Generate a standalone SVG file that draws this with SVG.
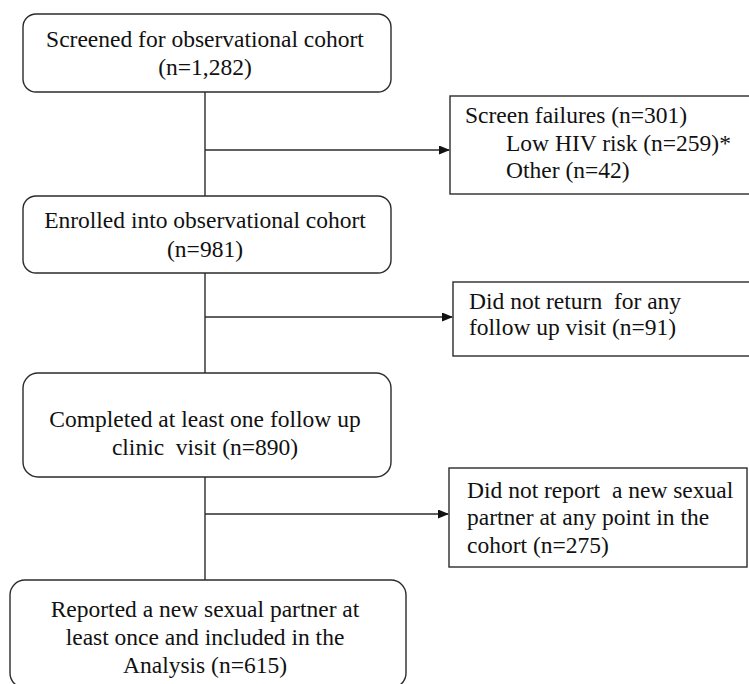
<svg xmlns="http://www.w3.org/2000/svg" width="749" height="684" viewBox="0 0 749 684">
<defs>
<style>
.box{fill:#fff;stroke:#2b2b2b;stroke-width:1.4}
.ln{fill:none;stroke:#2b2b2b;stroke-width:1.4}
</style>
<marker id="ah" markerWidth="11" markerHeight="9" refX="10" refY="4.5" orient="auto" markerUnits="userSpaceOnUse">
<path d="M0,0 L11,4.5 L0,9 Z" fill="#111"/>
</marker>
</defs>
<rect width="749" height="684" fill="#fff"/>
<g id="connectors">
<path class="ln" d="M205,92 V196"/>
<path class="ln" d="M205,150 H449" marker-end="url(#ah)"/>
<path class="ln" d="M205,273 V373"/>
<path class="ln" d="M205,317 H452" marker-end="url(#ah)"/>
<path class="ln" d="M205,477 V580"/>
<path class="ln" d="M205,514 H448" marker-end="url(#ah)"/>
</g>
<g font-family="'Liberation Serif', 'Times New Roman', 'DejaVu Serif', serif" font-size="23.5" fill="#111">
<g id="n1">
<rect class="box" x="23" y="14" width="368" height="78" rx="13"/>
<text text-anchor="middle" x="205" y="47">Screened for observational cohort</text>
<text text-anchor="middle" x="205" y="75">(n=1,282)</text>
</g>
<g id="n2">
<rect class="box" x="450" y="96" width="320" height="98"/>
<text x="465" y="123">Screen failures (n=301)</text>
<text x="506" y="151">Low HIV risk (n=259)*</text>
<text x="506" y="178">Other (n=42)</text>
</g>
<g id="n3">
<rect class="box" x="23" y="196" width="368" height="77" rx="13"/>
<text text-anchor="middle" x="205" y="228">Enrolled into observational cohort</text>
<text text-anchor="middle" x="205" y="257">(n=981)</text>
</g>
<g id="n4">
<rect class="box" x="453" y="282" width="320" height="74"/>
<text x="469" y="309" xml:space="preserve">Did not return  for any</text>
<text x="469" y="335">follow up visit (n=91)</text>
</g>
<g id="n5">
<rect class="box" x="23" y="373" width="368" height="104" rx="15"/>
<text text-anchor="middle" x="205" y="427">Completed at least one follow up</text>
<text text-anchor="middle" x="205" y="455" xml:space="preserve">clinic  visit (n=890)</text>
</g>
<g id="n6">
<rect class="box" x="449" y="468" width="298" height="99"/>
<text x="467" y="498" xml:space="preserve">Did not report  a new sexual</text>
<text x="467" y="525">partner at any point in the</text>
<text x="467" y="553">cohort (n=275)</text>
</g>
<g id="n7">
<rect class="box" x="10" y="580" width="396" height="108" rx="15"/>
<text text-anchor="middle" x="205" y="617">Reported a new sexual partner at</text>
<text text-anchor="middle" x="205" y="645">least once and included in the</text>
<text text-anchor="middle" x="205" y="673">Analysis (n=615)</text>
</g>
</g>
</svg>
